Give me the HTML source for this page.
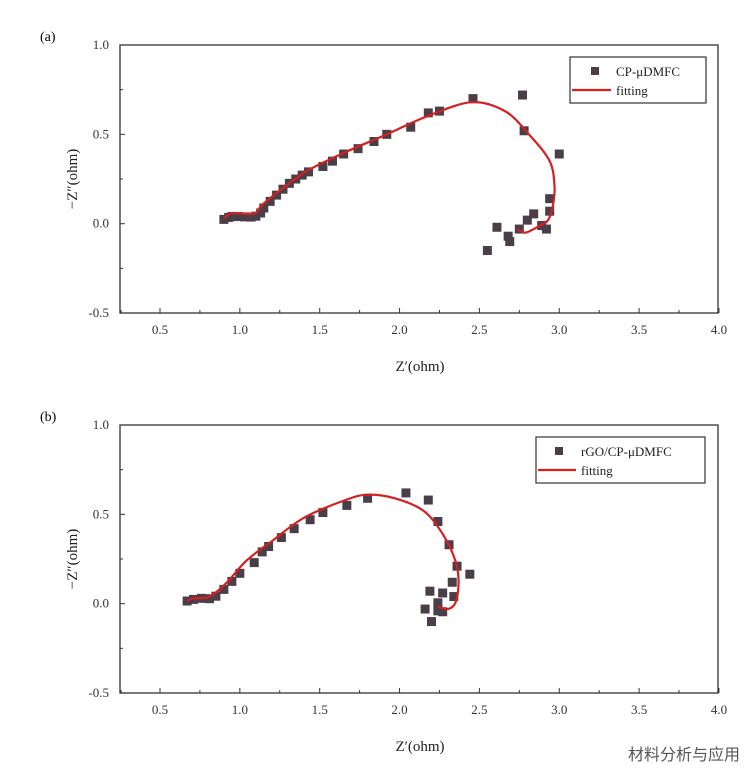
<!DOCTYPE html>
<html><head><meta charset="utf-8"><style>
body{margin:0;background:#fff;width:746px;height:784px;overflow:hidden;font-family:"Liberation Serif",serif}
svg{position:absolute;left:0;top:0}
</style></head><body>
<svg id="svg" width="746" height="784"></svg>
<script>
const xTicks=[0.5,1.0,1.5,2.0,2.5,3.0,3.5,4.0];
const yTicks=[-0.5,0.0,0.5,1.0];
const aPtsX=[0.9,0.93,0.95,0.99,1.03,1.07,1.1,1.13,1.15,1.19,1.23,1.27,1.31,1.35,1.39,1.43,1.52,1.58,1.65,1.74,1.84,1.92,2.07,2.18,2.25,2.46,2.77,2.78,3.0,2.94,2.94,2.92,2.84,2.80,2.75,2.68,2.69,2.61,2.55,2.89];
const aPtsY=[0.024,0.035,0.04,0.04,0.038,0.037,0.042,0.06,0.088,0.125,0.16,0.193,0.226,0.25,0.272,0.29,0.32,0.35,0.39,0.42,0.46,0.50,0.54,0.62,0.63,0.70,0.72,0.52,0.39,0.14,0.07,-0.03,0.055,0.02,-0.03,-0.07,-0.1,-0.02,-0.15,-0.01];
const aFitX=[0.9,0.94,0.97,1.09,1.14,1.27,1.43,1.66,1.92,2.17,2.45,2.66,2.81,2.94,2.97,2.96,2.93,2.88,2.79,2.74];
const aFitY=[0.03,0.057,0.06,0.057,0.106,0.199,0.30,0.40,0.50,0.60,0.68,0.63,0.50,0.35,0.21,0.10,0.02,-0.01,-0.05,-0.03];
const bPtsX=[0.67,0.71,0.76,0.81,0.85,0.9,0.95,1.0,1.09,1.14,1.18,1.26,1.34,1.44,1.52,1.67,1.80,2.04,2.18,2.24,2.31,2.36,2.44,2.33,2.34,2.19,2.27,2.16,2.24,2.27,2.2,2.24];
const bPtsY=[0.015,0.024,0.03,0.028,0.042,0.08,0.125,0.17,0.23,0.29,0.32,0.37,0.42,0.47,0.51,0.55,0.59,0.62,0.58,0.46,0.33,0.21,0.165,0.12,0.04,0.07,0.06,-0.03,-0.04,-0.045,-0.1,0.005];
const bFitX=[0.67,0.71,0.81,0.92,1.04,1.2,1.4,1.66,1.80,1.97,2.15,2.27,2.35,2.37,2.35,2.3,2.24];
const bFitY=[0.015,0.03,0.04,0.12,0.24,0.35,0.48,0.58,0.61,0.59,0.52,0.39,0.24,0.12,0.005,-0.03,-0.015];
const NS="http://www.w3.org/2000/svg";
const svg=document.getElementById('svg');
function mk(t,a,p){const e=document.createElementNS(NS,t);for(const k in a)e.setAttribute(k,a[k]);(p||svg).appendChild(e);return e;}
function smooth(P){let d='M'+P[0][0].toFixed(1)+','+P[0][1].toFixed(1);
 for(let i=0;i<P.length-1;i++){const p0=P[i-1]||P[i],p1=P[i],p2=P[i+1],p3=P[i+2]||p2;
  const c1=[p1[0]+(p2[0]-p0[0])/6,p1[1]+(p2[1]-p0[1])/6],c2=[p2[0]-(p3[0]-p1[0])/6,p2[1]-(p3[1]-p1[1])/6];
  d+='C'+c1.map(v=>v.toFixed(1)).join(',')+' '+c2.map(v=>v.toFixed(1)).join(',')+' '+p2[0].toFixed(1)+','+p2[1].toFixed(1);}
 return d;}
function panel(top,label,legendName,px,py,fx,fy,lg){
 const L=120,R=718,T=top,B=top+268;
 const sx=v=>160+(v-0.5)*159.7, sy=v=>T+(1-v)*178.7;
 const g=mk('g',{});
 
 
 const t0=mk('text',{x:40,y:top-4,'font-size':14},g);t0.textContent='('+label+')';
 
 const box=mk('rect',{x:L,y:T,width:R-L,height:B-T,fill:'none',stroke:'#333','stroke-width':1.3},g);
 
 xTicks.forEach(v=>{const x=sx(v);mk('line',{x1:x,x2:x,y1:B,y2:B-5,stroke:'#333'},g);
  mk('line',{x1:x+39.9,x2:x+39.9,y1:B,y2:B-3,stroke:'#333'},g);
  const t=mk('text',{x:x,y:B+21,'font-size':13,'text-anchor':'middle',fill:'#333'},g);t.textContent=v.toFixed(1);
  });
 mk('line',{x1:sx(0.25)+1,x2:sx(0.25)+1,y1:B,y2:B-3,stroke:'#333'},g);
 yTicks.forEach(v=>{const y=sy(v);mk('line',{x1:L,x2:L+5,y1:y,y2:y,stroke:'#333'},g);
  if(v<1)mk('line',{x1:L,x2:L+3,y1:y-44.7,y2:y-44.7,stroke:'#333'},g);
  const t=mk('text',{x:L-11,y:y+4,'font-size':13,'text-anchor':'end',fill:'#333'},g);t.textContent=v.toFixed(1);
  });
 const xl=mk('text',{x:420,y:B+58,'font-size':15,'text-anchor':'middle',fill:'#222'},g);xl.textContent='Z′(ohm)';
 
 const cy=(T+B)/2;
 const yl=mk('text',{x:77,y:cy,'font-size':15,'text-anchor':'middle',fill:'#222',transform:`rotate(-90 77 ${cy})`},g);yl.textContent='−Z″(ohm)';
 
 px.forEach((v,i)=>{const r=mk('rect',{x:sx(v)-4.5,y:sy(py[i])-4.5,width:9,height:9,fill:'#4a3f48'},g);
  });
 const P=fx.map((v,i)=>[sx(v),sy(fy[i])]);
 const p=mk('path',{d:smooth(P),fill:'none',stroke:'#d42020','stroke-width':2.2,'stroke-linejoin':'round'},g);
 
 const lgG=mk('g',{},g);
 
 mk('rect',{x:lg[0],y:lg[1],width:lg[2],height:46,fill:'#fff',stroke:'#333','stroke-width':1.2},lgG);
 mk('rect',{x:lg[0]+lg[3]-4,y:lg[1]+10,width:8,height:8,fill:'#4a3f48'},lgG);
 const t1=mk('text',{x:lg[0]+lg[4],y:lg[1]+19,'font-size':13,fill:'#222'},lgG);t1.textContent=legendName;
 mk('line',{x1:lg[0]+2,x2:lg[0]+lg[4]-5,y1:lg[1]+33,y2:lg[1]+33,stroke:'#d42020','stroke-width':2.2},lgG);
 const t2=mk('text',{x:lg[0]+lg[4],y:lg[1]+38,'font-size':13,fill:'#222'},lgG);t2.textContent='fitting';
}
panel(45,'a','CP-μDMFC',aPtsX,aPtsY,aFitX,aFitY,[570,57,136,25,46]);
panel(425,'b','rGO/CP-μDMFC',bPtsX,bPtsY,bFitX,bFitY,[536,437,169,23,45]);
const wm=mk('text',{x:740,y:760,'font-size':16,'text-anchor':'end',fill:'#555','font-family':'"Liberation Sans","Noto Sans CJK SC",sans-serif'});
wm.textContent='材料分析与应用';


</script>
</body></html>
